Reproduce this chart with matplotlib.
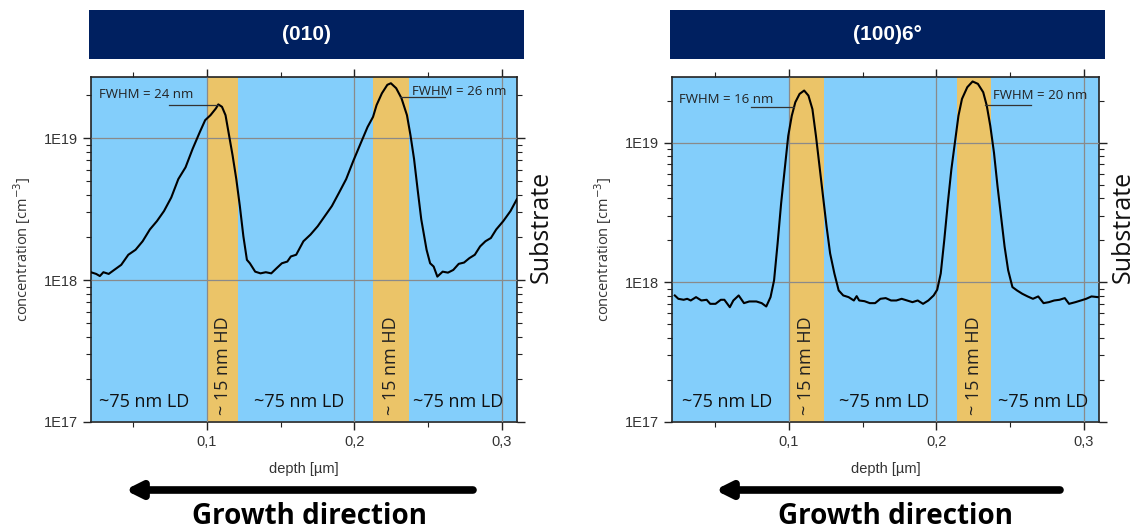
import numpy as np
import matplotlib
matplotlib.use("Agg")
import matplotlib.pyplot as plt
from matplotlib.patches import Rectangle
from matplotlib.ticker import FixedLocator, FuncFormatter, LogLocator, NullFormatter

# depth in nm, log10 of concentration in cm^-3
depth_010 = [21.3, 24.9, 27.4, 29.8, 33.4, 37.1, 41.9, 46.7, 51.6, 56.4, 61.3, 66.1, 70.9,
             75.8, 80.6, 85.5, 90.3, 95.2, 98.8, 102.4, 106.1, 107.7, 110.2, 112.6, 115.0,
             117.4, 119.9, 122.3, 124.7, 127.1, 129.1, 132.7, 136.3, 139.9, 143.6, 147.2,
             150.8, 154.5, 156.9, 160.5, 165.4, 170.2, 175.1, 179.9, 184.7, 189.6, 194.4,
             199.3, 204.1, 208.9, 212.6, 215.0, 218.6, 222.3, 224.7, 228.3, 231.9, 235.6,
             238.0, 240.4, 242.8, 245.3, 248.9, 251.3, 253.7, 256.2, 259.8, 263.4, 267.0,
             270.7, 274.3, 277.9, 281.6, 285.2, 288.8, 292.5, 296.1, 300.9, 305.8, 310.1]
logc_010 = [18.055, 18.043, 18.028, 18.055, 18.043, 18.071, 18.107, 18.178, 18.213, 18.273,
            18.356, 18.415, 18.486, 18.581, 18.711, 18.794, 18.924, 19.043, 19.126, 19.161,
            19.209, 19.237, 19.220, 19.161, 19.019, 18.877, 18.711, 18.521, 18.308, 18.142,
            18.118, 18.059, 18.047, 18.055, 18.047, 18.083, 18.118, 18.130, 18.166, 18.178,
            18.273, 18.320, 18.379, 18.450, 18.521, 18.616, 18.711, 18.841, 18.960, 19.078,
            19.149, 19.232, 19.315, 19.375, 19.386, 19.351, 19.280, 19.161, 19.019, 18.853,
            18.640, 18.427, 18.213, 18.118, 18.095, 18.024, 18.059, 18.052, 18.071, 18.114,
            18.123, 18.154, 18.178, 18.237, 18.273, 18.296, 18.356, 18.415, 18.486, 18.569]

depth_100 = [22.6, 25.0, 28.6, 31.0, 33.4, 37.0, 40.6, 44.2, 46.6, 50.2, 53.8, 56.2, 59.9,
             62.3, 65.9, 69.5, 73.1, 77.9, 81.5, 84.6, 87.5, 89.9, 92.3, 94.7, 97.1, 99.5,
             101.9, 104.3, 107.2, 110.3, 113.2, 115.9, 118.3, 120.7, 123.1, 125.5, 127.9,
             130.8, 133.7, 136.8, 140.4, 144.0, 145.9, 147.6, 151.2, 154.8, 158.4, 162.0,
             165.6, 169.2, 172.8, 176.4, 180.1, 183.7, 187.3, 190.9, 194.5, 198.1, 200.5,
             202.9, 205.3, 207.7, 210.1, 212.5, 214.9, 217.3, 220.9, 224.5, 228.1, 231.7,
             234.1, 236.5, 239.0, 241.4, 243.8, 246.2, 248.6, 251.5, 254.6, 258.2, 261.8,
             265.4, 269.0, 272.6, 276.2, 279.8, 283.4, 287.0, 289.9, 294.2, 297.9, 301.5,
             305.1, 309.4]
logc_100 = [17.906, 17.882, 17.875, 17.882, 17.870, 17.894, 17.870, 17.875, 17.846, 17.846,
            17.875, 17.875, 17.822, 17.870, 17.906, 17.851, 17.863, 17.863, 17.851, 17.827,
            17.894, 18.014, 18.279, 18.567, 18.808, 19.048, 19.192, 19.289, 19.349, 19.373,
            19.337, 19.240, 19.048, 18.832, 18.615, 18.399, 18.207, 18.063, 17.942, 17.906,
            17.894, 17.870, 17.901, 17.870, 17.865, 17.851, 17.851, 17.882, 17.887, 17.870,
            17.870, 17.882, 17.870, 17.858, 17.870, 17.846, 17.870, 17.906, 17.947, 18.063,
            18.303, 18.567, 18.808, 19.000, 19.192, 19.313, 19.397, 19.438, 19.421, 19.361,
            19.265, 19.120, 18.928, 18.688, 18.471, 18.255, 18.087, 17.966, 17.942, 17.918,
            17.899, 17.882, 17.899, 17.851, 17.858, 17.870, 17.875, 17.887, 17.846, 17.858,
            17.870, 17.882, 17.899, 17.894]

# highly doped bands (nm)
hd_010 = [(100.0, 121.3), (212.6, 236.8)]
hd_100 = [(100.0, 123.6), (213.9, 237.2)]

# FWHM labels: text, text x (nm), text log y, line x0, line x1, line log y
fwhm_010 = [("FWHM = 24 nm", 27.0, 19.31, 74.3, 107.3, 19.232),
            ("FWHM = 26 nm", 238.7, 19.33, 230.7, 261.7, 19.292)]
fwhm_100 = [("FWHM = 16 nm", 25.5, 19.31, 74.3, 103.1, 19.252),
            ("FWHM = 20 nm", 238.2, 19.34, 233.0, 264.2, 19.269)]

ld_x_010 = [27.0, 132.0, 240.0]
ld_x_100 = [27.4, 133.7, 241.8]

BLUE = "#83CEFB"
ORANGE = "#EBC468"
NAVY = "#002060"
ARIAL = ["Liberation Sans", "DejaVu Sans"]
SANS = ["Open Sans", "DejaVu Sans"]
W, H = 1139, 531


def draw_panel(fig, px, title, depth, logc, bands, fwhm, ld_x, xlim, ytop, arrow, text_x):
    x0p, x1p = px
    rect = [x0p / W, 1 - 422 / H, (x1p - x0p) / W, 345 / H]
    ax = fig.add_axes(rect)
    x = np.array(depth) / 1000.0
    y = 10 ** np.array(logc)

    ax.set_facecolor(BLUE)
    for b0, b1 in bands:
        ax.axvspan(b0 / 1000, b1 / 1000, color=ORANGE, lw=0, zorder=0.5)
        ax.text((b0 + b1) / 2000, 1.12e17, "~ 15 nm HD", rotation=90, ha="center",
                va="bottom", fontsize=13, family=SANS, color="#222222", zorder=3)

    ax.set_yscale("log")
    ax.set_xlim(*xlim)
    ax.set_ylim(1e17, ytop)

    ax.xaxis.set_major_locator(FixedLocator([0.1, 0.2, 0.3]))
    ax.xaxis.set_minor_locator(FixedLocator([0.05, 0.15, 0.25]))
    ax.xaxis.set_major_formatter(FuncFormatter(lambda v, p: ("%.1f" % v).replace(".", ",")))
    ax.yaxis.set_major_locator(FixedLocator([1e17, 1e18, 1e19]))
    ax.yaxis.set_minor_locator(LogLocator(base=10, subs=np.arange(2, 10)))
    ax.yaxis.set_minor_formatter(NullFormatter())
    ax.yaxis.set_major_formatter(FuncFormatter(lambda v, p: "1E%d" % round(np.log10(v))))

    ax.tick_params(which="both", direction="out", top=True, right=True, color="#222222")
    ax.tick_params(which="major", length=6, width=1, labelsize=10.5)
    ax.tick_params(which="minor", length=3.5, width=0.8)
    for lab in ax.get_xticklabels() + ax.get_yticklabels():
        lab.set_family(ARIAL)
        lab.set_color("#333333")

    ax.grid(True, which="major", color="#8a8a8a", lw=0.9, zorder=1)
    ax.set_axisbelow(False)
    for s in ax.spines.values():
        s.set_color("#222222")
        s.set_linewidth(1.2)

    ax.plot(x, y, color="black", lw=1.5, zorder=4)

    for txt, tx, ty, lx0, lx1, ly in fwhm:
        ax.text(tx / 1000, 10 ** ty, txt, fontsize=9.5, family=SANS, color="#222222",
                va="center", ha="left", zorder=5)
        ax.plot([lx0 / 1000, lx1 / 1000], [10 ** ly, 10 ** ly], color="#333333", lw=0.9, zorder=5)

    for lx in ld_x:
        ax.text(lx / 1000, 1.2e17, "~75 nm LD", fontsize=13, family=SANS, color="#111111",
                ha="left", va="bottom", zorder=5)

    ax.set_xlabel("depth [µm]", fontsize=10.5, family=ARIAL, color="#333333", labelpad=9)
    ax.set_ylabel("concentration [cm$^{-3}$]", fontsize=10.5, family=SANS, color="#333333",
                  labelpad=8)
    ax.text((x1p + 24) / W, 1 - 227 / H, "Substrate", rotation=90, transform=fig.transFigure,
            fontsize=18, family=SANS, ha="center", va="center", color="#111111")

    # title bar
    bx0 = (x0p - 2) / W
    bw = 435 / W
    fig.patches.append(Rectangle((bx0, 1 - 59 / H), bw, 49 / H, transform=fig.transFigure,
                                 facecolor=NAVY, edgecolor="none"))
    fig.text(bx0 + bw / 2, 1 - 34 / H, title, color="white", fontsize=15,
             fontweight="bold", family=ARIAL, ha="center", va="center")

    # growth direction arrow
    ax.annotate("", xy=(arrow[0] / W, 1 - 490 / H), xytext=(arrow[1] / W, 1 - 490 / H),
                xycoords="figure fraction", textcoords="figure fraction",
                arrowprops=dict(arrowstyle="-|>,head_length=0.9,head_width=0.45", lw=5.5,
                                color="black", shrinkA=0, shrinkB=0))
    fig.text(text_x / W, 1 - 516 / H, "Growth direction", fontsize=20, fontweight="bold",
             family=SANS, ha="center", va="center")
    return ax


fig = plt.figure(figsize=(11.39, 5.31), dpi=100)
draw_panel(fig, (91, 517), "(010)", depth_010, logc_010, hd_010, fwhm_010, ld_x_010,
           (0.0214, 0.3102), 10 ** 19.43, (125, 473), 309)
draw_panel(fig, (672, 1099), "(100)6°", depth_100, logc_100, hd_100, fwhm_100, ld_x_100,
           (0.0207, 0.3102), 10 ** 19.47, (715, 1060), 896)

fig.savefig("out.png", dpi=100)
plt.close(fig)
